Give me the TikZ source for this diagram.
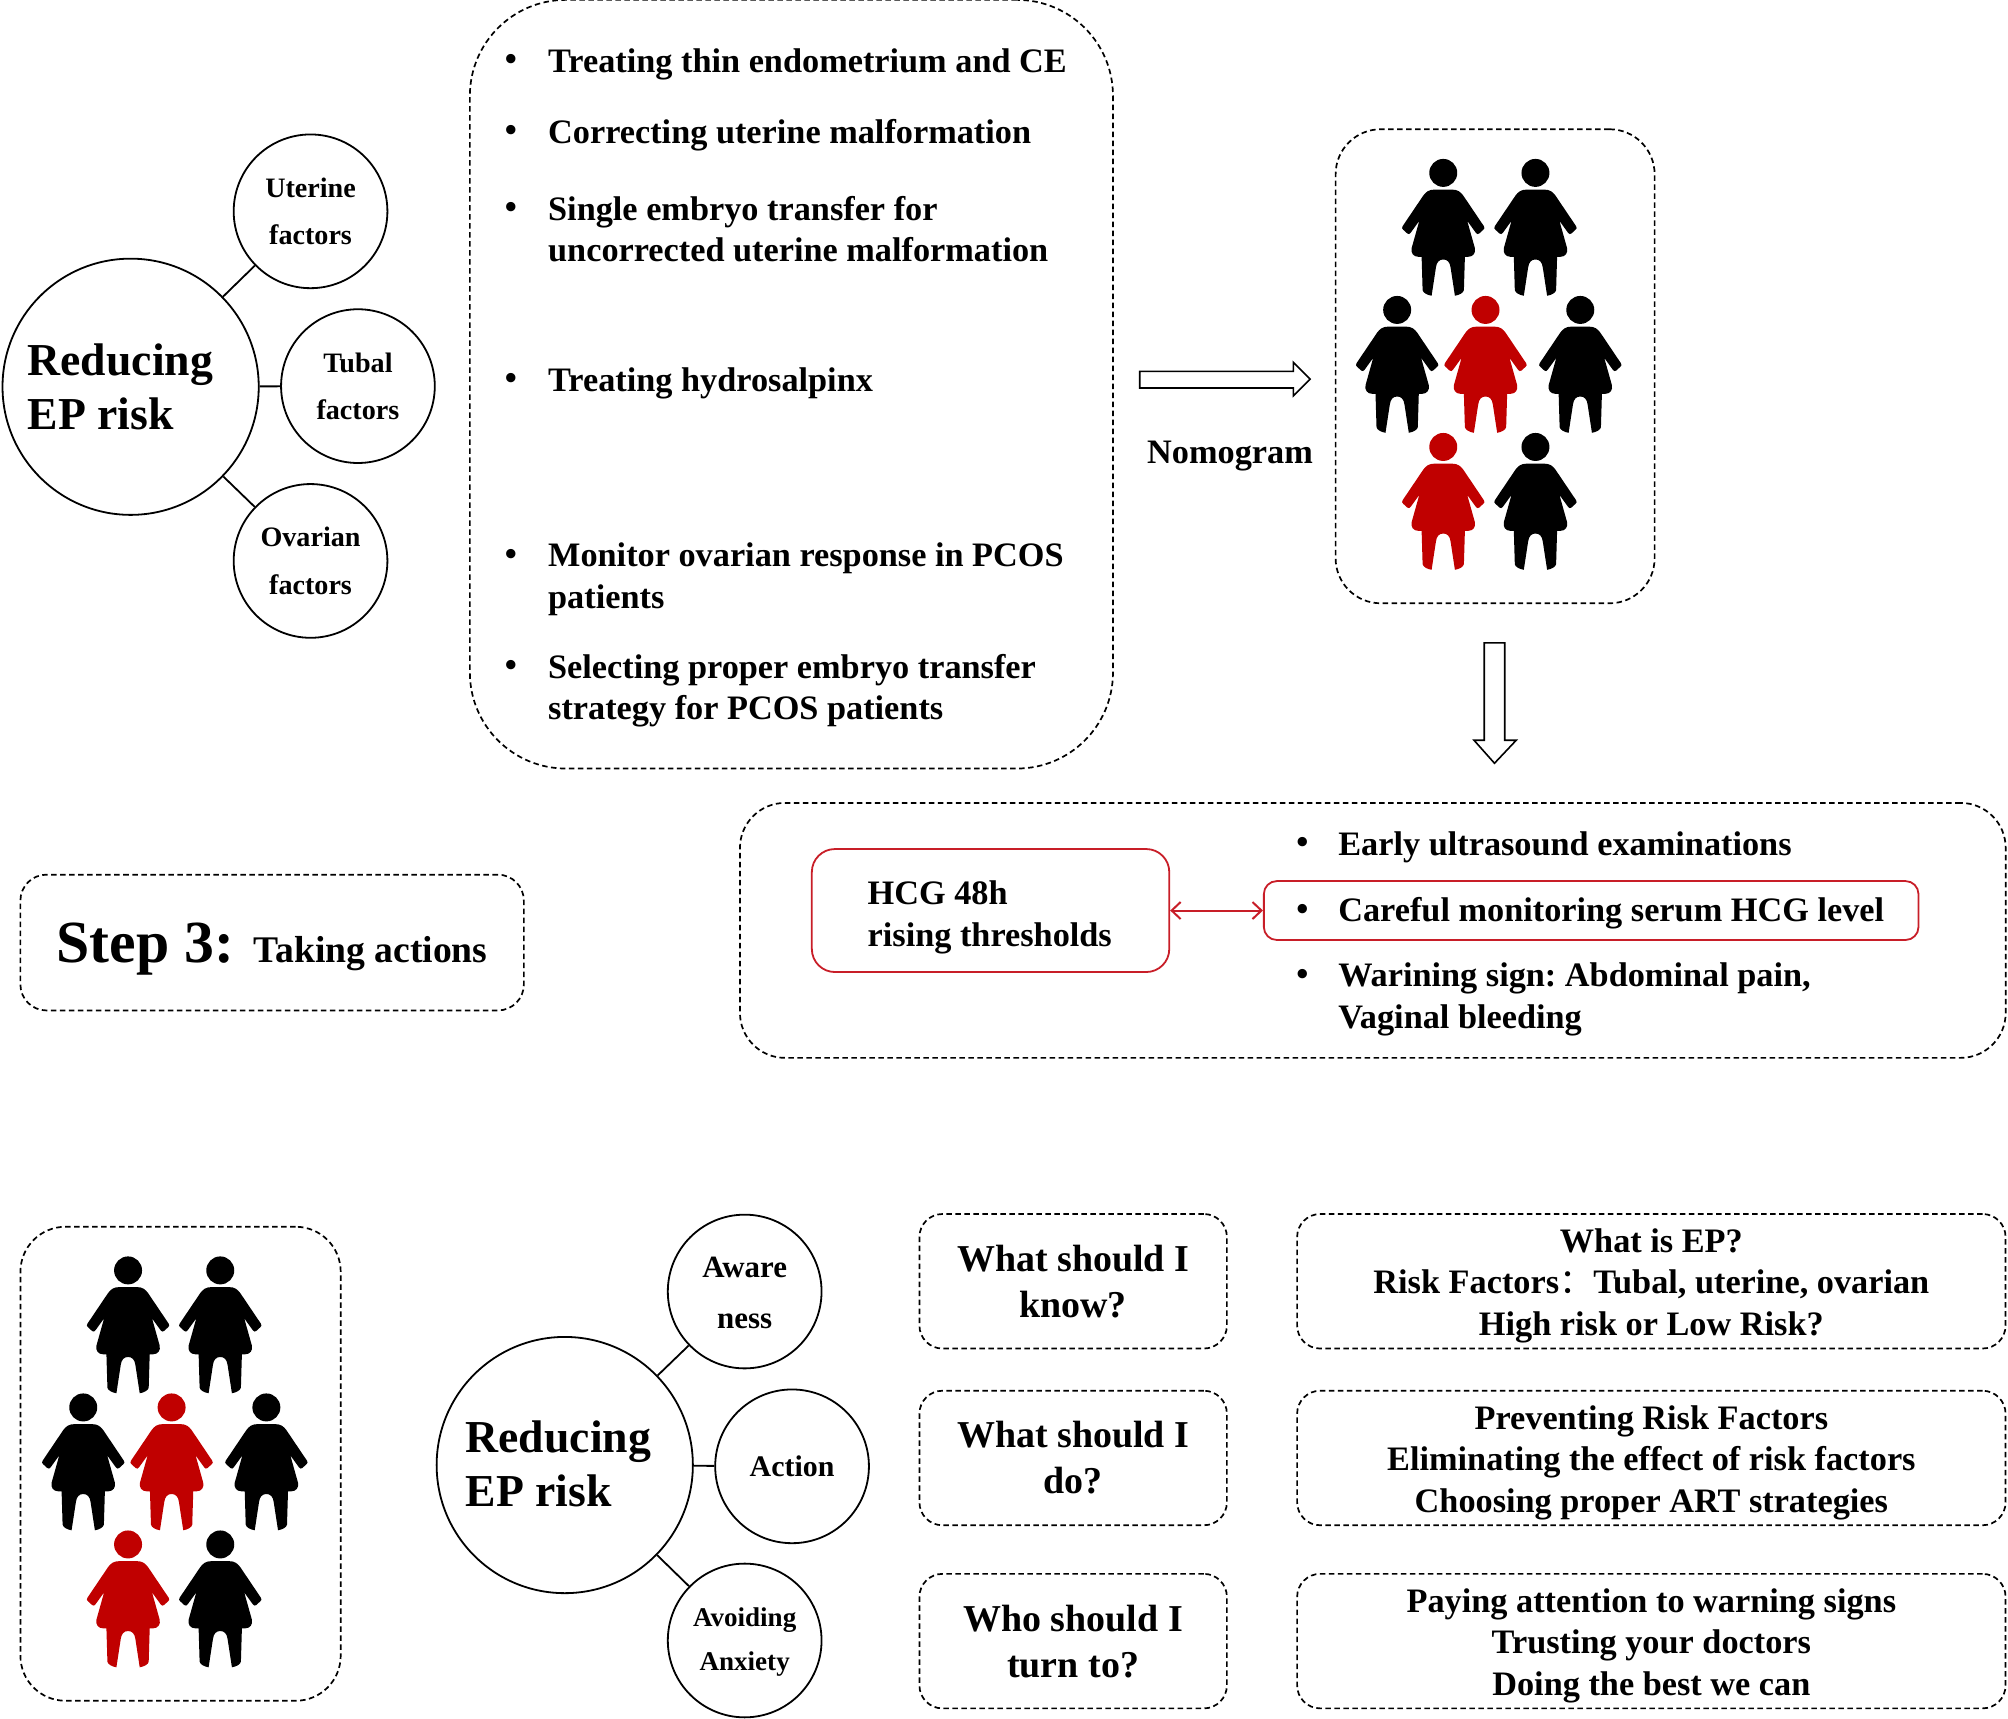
\documentclass[tikz,border=0pt]{standalone}
\usepackage{fontspec}
\setmainfont{Liberation Serif}
\newfontfamily\cjk{Noto Sans CJK SC}
\usetikzlibrary{arrows.meta}
\definecolor{r192g0b0}{rgb}{0.752941,0.000000,0.000000}
\definecolor{r200g30b40}{rgb}{0.784314,0.117647,0.156863}
\frenchspacing
\tikzset{
  sized/.style 2 args={minimum width=#1*0.128065mm,minimum height=#2*0.128065mm},
  dashbox/.style={draw,dashed,dash pattern=on 0.055cm off 0.035cm,line width=0.017cm,inner sep=0pt},
  redbox/.style={draw=r200g30b40,line width=0.018cm,inner sep=0pt},
  ring/.style={draw,circle,line width=0.018cm,inner sep=0pt,align=center},
  bigring/.style={ring,minimum size=2.5613cm},
  bigtext/.style={inner sep=0pt,align=left,font=\bfseries\fontsize{13}{15.2}\selectfont},
  smallring/.style={ring,minimum size=1.5368cm,font=\bfseries\fontsize{8}{13.4}\selectfont},
  ringtext/.style={inner sep=0pt,align=center},
  itemtext/.style={anchor=west,inner sep=0pt,align=left,yshift=-0.032cm,font=\bfseries\fontsize{9.75}{11.8}\selectfont},
  centertext/.style={inner sep=0pt,align=center,font=\bfseries\fontsize{9.75}{11.8}\selectfont},
  asktext/.style={font=\bfseries\fontsize{10.8}{13.1}\selectfont,align=center},
  dotmark/.style={inner sep=0pt,font=\bfseries\fontsize{9.8}{11.7}\selectfont},
  figure/.style={scale=0.26},
  person/.pic={
    \fill (0,0) circle (42);
    \fill (-25,50) .. controls (-45,50) and (-52,58) .. (-60,68) -- (-122,160)
      .. controls (-125,165) and (-124,168) .. (-120,171) -- (-108,182)
      .. controls (-104,185) and (-101,184) .. (-98,180) -- (-72,144) -- (-95,226)
      .. controls (-98,240) and (-90,252) .. (-75,252) -- (-65,252) -- (-62,352)
      .. controls (-61,360) and (-48,367) .. (-35,369) -- (-22,284)
      .. controls (-20,268) and (-12,260) .. (0,260)
      .. controls (12,260) and (20,268) .. (22,284) -- (35,369)
      .. controls (48,367) and (61,360) .. (62,352) -- (65,252) -- (75,252)
      .. controls (90,252) and (98,240) .. (95,226) -- (72,144) -- (98,180)
      .. controls (101,184) and (104,185) .. (108,182) -- (120,171)
      .. controls (124,168) and (125,165) .. (122,160) -- (60,68)
      .. controls (52,58) and (45,50) .. (25,50) -- cycle;
  }
}
\begin{document}
\begin{tikzpicture}[x=0.0128065cm,y=-0.0128065cm]
\useasboundingbox (0,0) rectangle (1568,1342.3);

% Drawing risk circles
\node[bigring] (riskmain) at (102,302) {};
\node[bigtext] (risklabel) at (94,302) {Reducing\\EP risk};
\node[smallring] (uterine) at (242.5,165) {Uterine\\factors};
\node[smallring] (tubal) at (279.5,301.5) {Tubal\\factors};
\node[smallring] (ovarian) at (242.5,438) {Ovarian\\factors};
\draw[line width=0.018cm] (riskmain) -- (uterine);
\draw[line width=0.018cm] (riskmain) -- (tubal);
\draw[line width=0.018cm] (riskmain) -- (ovarian);

% Drawing treatment box
\node[dashbox,rounded corners=0.96cm,sized={502}{600}] (treatbox) at (618,300) {};
\foreach \iy/\itxt in {48/Treating thin endometrium and CE,
    103/Correcting uterine malformation,
    176.5/{Single embryo transfer for\\uncorrected uterine malformation},
    297/Treating hydrosalpinx,
    450/{Monitor ovarian response in PCOS\\patients},
    537/{Selecting proper embryo transfer\\strategy for PCOS patients}}{
  \node[itemtext] at (427.5,\iy) {\itxt};
}
\foreach \iy in {49,104,164,298,435,522}{
  \node[dotmark] at (399,\iy) {\textbullet};
}

% Drawing block arrows
\draw[line width=0.016cm] (890,290) -- (1010,290) -- (1010,283) -- (1023,296) -- (1010,309) -- (1010,303) -- (890,303) -- cycle;
\draw[line width=0.016cm] (1159,502) -- (1175,502) -- (1175,578) -- (1184,578) -- (1167,596) -- (1151,578) -- (1159,578) -- cycle;
\node[centertext,yshift=-0.032cm] (nomolabel) at (960.5,354) {Nomogram};

% Drawing nomogram group
\node[dashbox,rounded corners=0.45cm,sized={249}{370}] (nomobox) at (1167.5,286) {};
\foreach \hx/\hy/\hc in {1127/135/black,1199/135/black,1091/242/black,1160/242/r192g0b0,1234/242/black,1127/349/r192g0b0,1199/349/black}{
  \pic[figure,color=\hc] at (\hx,\hy) {person};
}

% Drawing step label
\node[dashbox,rounded corners=0.26cm,sized={393}{106}] (stepbox) at (212.5,736) {};
\node[inner sep=0pt,anchor=base west] (steplabel) at (43.5,751.5) {\bfseries\fontsize{17}{20}\selectfont Step 3:\hspace{5.6pt}\fontsize{10.7}{13}\selectfont Taking actions};

% Drawing monitoring box
\node[dashbox,rounded corners=0.45cm,sized={988}{199}] (monitorbox) at (1072,726.5) {};
\node[redbox,rounded corners=0.23cm,sized={279}{96}] (hcgbox) at (773.5,711) {};
\node[itemtext] (hcglabel) at (677,714) {HCG 48h\\rising thresholds};
\node[redbox,rounded corners=0.13cm,sized={511}{46}] (carefulbox) at (1242.5,711) {};
\draw[r200g30b40,line width=0.02cm,{Straight Barb[length=0.09cm,width=0.17cm]}-{Straight Barb[length=0.09cm,width=0.17cm]}] (hcgbox.east) -- (carefulbox.west);
\foreach \iy/\itxt in {659/Early ultrasound examinations,
    710.5/Careful monitoring serum HCG level,
    778/{Warining sign: Abdominal pain,\\Vaginal bleeding}}{
  \node[itemtext] at (1044.5,\iy) {\itxt};
}
\foreach \iy in {660,712.5,763}{
  \node[dotmark] at (1017,\iy) {\textbullet};
}

% Drawing lower group
\node[dashbox,rounded corners=0.45cm,sized={250}{370}] (groupbox) at (141,1143) {};
\foreach \hx/\hy/\hc in {100/992/black,172/992/black,65/1099/black,134/1099/r192g0b0,208/1099/black,100/1206/r192g0b0,172/1206/black}{
  \pic[figure,color=\hc] at (\hx,\hy) {person};
}

% Drawing lower circles
\node[bigring] (lowermain) at (441,1144) {};
\node[bigtext] (lowerlabel) at (436,1143) {Reducing\\EP risk};
\node[smallring] (aware) at (581.5,1008.5) {};
\node[smallring] (action) at (618.5,1145) {};
\node[smallring] (anxiety) at (581.5,1281) {};
\node[ringtext,font=\bfseries\fontsize{8.8}{14.5}\selectfont] (awarelabel) at (581.5,1009.5) {Aware\\ness};
\node[ringtext,font=\bfseries\fontsize{8.5}{10}\selectfont] (actionlabel) at (618.5,1145) {Action};
\node[ringtext,font=\bfseries\fontsize{7.7}{12.4}\selectfont] (anxietylabel) at (581.5,1282) {Avoiding\\Anxiety};
\draw[line width=0.018cm] (lowermain) -- (aware);
\draw[line width=0.018cm] (lowermain) -- (action);
\draw[line width=0.018cm] (lowermain) -- (anxiety);

% Drawing question boxes
\node[dashbox,asktext,rounded corners=0.23cm,sized={240}{105}] (knowbox) at (838,1000.5) {What should I\\know?};
\node[dashbox,asktext,rounded corners=0.23cm,sized={240}{105}] (dobox) at (838,1138.5) {What should I\\do?};
\node[dashbox,asktext,rounded corners=0.23cm,sized={240}{105}] (turnbox) at (838,1281.5) {Who should I\\turn to?};

% Drawing answer boxes
\node[dashbox,rounded corners=0.23cm,sized={553}{105}] (knowans) at (1289.5,1000.5) {};
\node[dashbox,rounded corners=0.23cm,sized={553}{105}] (doans) at (1289.5,1138.5) {};
\node[dashbox,rounded corners=0.23cm,sized={553}{105}] (turnans) at (1289.5,1281.5) {};
\node[centertext] (knowtext) at (1289.5,1004) {What is EP?\\Risk Factors{\cjk\mdseries ：}Tubal, uterine, ovarian\\High risk or Low Risk?};
\node[centertext] (dotext) at (1289.5,1142) {Preventing Risk Factors\\Eliminating the effect of risk factors\\Choosing proper ART strategies};
\node[centertext] (turntext) at (1289.5,1285) {Paying attention to warning signs\\Trusting your doctors\\Doing the best we can};
\end{tikzpicture}
\end{document}
